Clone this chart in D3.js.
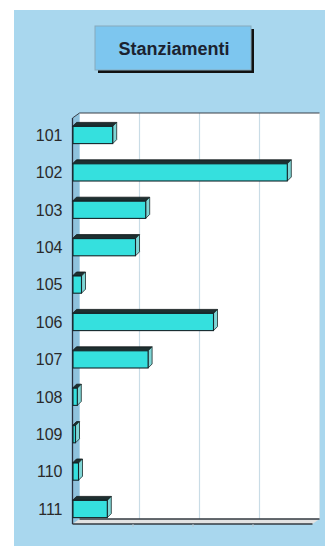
<!DOCTYPE html>
<html><head><meta charset="utf-8">
<script src="https://cdn.jsdelivr.net/npm/d3@7"></script>
<style>html,body{margin:0;padding:0;background:#fff;}svg{display:block;}</style>
</head><body>
<svg id="c" width="325" height="546"></svg>
<script>
const title = "Stanziamenti";
const categories = ["101","102","103","104","105","106","107","108","109","110","111"];
const values = [6.7, 35.8, 12.2, 10.5, 1.5, 23.5, 12.6, 0.8, 0.5, 1.0, 5.8];
const xTicks = [0, 10, 20, 30, 40];

(function(){
const svg = d3.select("#c");
// background
svg.append("rect").attr("x",14).attr("y",10).attr("width",311).attr("height",536).attr("fill","#a9d7ee");

// title box
svg.append("rect").attr("x",98).attr("y",29).attr("width",156).attr("height",44).attr("fill","#111");
svg.append("rect").attr("x",95).attr("y",26).attr("width",156).attr("height",44).attr("fill","#7dc6ef").attr("stroke","#8ab").attr("stroke-width",1);
svg.append("text").attr("x",174).attr("y",55).attr("text-anchor","middle")
  .attr("font-family","Liberation Sans, Arial, sans-serif").attr("font-weight","bold").attr("font-size",18)
  .attr("fill","#1b2230").text(title);

const x = d3.scaleLinear().domain([0,40]).range([72.5,312.5]);
const y = d3.scaleBand().domain(categories).range([116.3,527.7]).paddingInner(0.54).paddingOuter(0.27);
const wdx = 7, wdy = -5;     // wall depth
const bdx = 4, bdy = -4;     // bar depth
const yTop = 113 - wdy, yBot = 524; // front-plane top/bottom

// back wall
svg.append("rect").attr("x",x(0)+wdx).attr("y",yTop+wdy).attr("width",x(40)-x(0)).attr("height",yBot-yTop)
  .attr("fill","#ffffff");
// left wall
svg.append("polygon").attr("points",[[x(0),yTop],[x(0)+wdx,yTop+wdy],[x(0)+wdx,yBot+wdy],[x(0),yBot]].join(" "))
  .attr("fill","#8fc2dd");
// gridlines on back wall
svg.selectAll("line.grid").data(xTicks.slice(1,-1)).join("line").attr("class","grid")
  .attr("x1",d=>x(d)+wdx).attr("x2",d=>x(d)+wdx).attr("y1",yTop+wdy).attr("y2",yBot+wdy)
  .attr("stroke","#c9dce6").attr("stroke-width",1.2);
// right edge of back wall
svg.append("line").attr("x1",x(40)+wdx).attr("x2",x(40)+wdx).attr("y1",yTop+wdy).attr("y2",yBot+wdy)
  .attr("stroke","#dde6ea");
// top edge
svg.append("line").attr("x1",x(0)+wdx).attr("x2",x(40)+wdx).attr("y1",yTop+wdy).attr("y2",yTop+wdy)
  .attr("stroke","#3a4048").attr("stroke-width",1.2);
svg.append("line").attr("x1",x(0)).attr("x2",x(0)+wdx).attr("y1",yTop).attr("y2",yTop+wdy)
  .attr("stroke","#3a4048");
// floor
svg.append("polygon").attr("points",[[x(0),yBot],[x(0)+wdx,yBot+wdy],[x(40)+wdx,yBot+wdy],[x(40),yBot]].join(" "))
  .attr("fill","#e2e2e2");
svg.append("line").attr("x1",x(0)+wdx).attr("x2",x(40)+wdx).attr("y1",yBot+wdy).attr("y2",yBot+wdy)
  .attr("stroke","#333a40").attr("stroke-width",1.3);
svg.append("line").attr("x1",x(0)).attr("x2",x(40)).attr("y1",yBot).attr("y2",yBot)
  .attr("stroke","#333a40").attr("stroke-width",1.3);
// left axis line
svg.append("line").attr("x1",x(0)).attr("x2",x(0)).attr("y1",yTop).attr("y2",yBot)
  .attr("stroke","#2a3040").attr("stroke-width",1.3);

// bottom x axis (ticks only)
const xAxis = d3.axisBottom(x).tickValues(xTicks.slice(1,-1)).tickFormat("").tickSize(3).tickSizeOuter(0);
const gx = svg.append("g").attr("transform",`translate(0,${yBot})`).call(xAxis);
gx.select(".domain").remove();
gx.selectAll(".tick line").attr("stroke","#b8c4cc");

// y axis labels
const yAxis = d3.axisLeft(y).tickSize(0).tickPadding(10);
const gy = svg.append("g").attr("transform",`translate(${x(0)},0)`).call(yAxis);
gy.select(".domain").remove();
gy.selectAll("text").attr("font-family","Liberation Sans, Arial, sans-serif").attr("font-size",16)
  .attr("fill","#2a2a2a").attr("dy","0.36em");

// bars
const bars = svg.selectAll("g.bar").data(categories.map((c,i)=>({c,v:values[i]}))).join("g").attr("class","bar");
const bw = y.bandwidth();
bars.append("polygon").attr("points",d=>{
  const x0=x(0), x1=x(d.v), yy=y(d.c);
  return [[x0,yy],[x0+bdx,yy+bdy],[x1+bdx,yy+bdy],[x1,yy]].join(" ");
}).attr("fill","#1d2f30").attr("stroke","#101818").attr("stroke-width",0.8);
bars.append("polygon").attr("points",d=>{
  const x1=x(d.v), yy=y(d.c);
  return [[x1,yy],[x1+bdx,yy+bdy],[x1+bdx,yy+bw+bdy],[x1,yy+bw]].join(" ");
}).attr("fill","#7fd6d6").attr("stroke","#1a2a2a").attr("stroke-width",0.8);
bars.append("rect").attr("x",x(0)+0.5).attr("y",d=>y(d.c)).attr("width",d=>Math.max(0,x(d.v)-x(0)-0.5)).attr("height",bw)
  .attr("fill","#35e0de").attr("stroke","#15252a").attr("stroke-width",1.1);
})();
</script>
</body></html>
